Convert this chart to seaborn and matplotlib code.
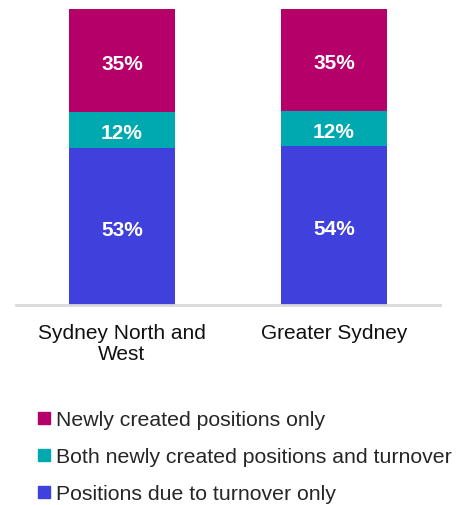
#-------------------------------------------------------------------------------
# Stacked share of vacancies by reason: Sydney North and West vs Greater Sydney
#-------------------------------------------------------------------------------

import matplotlib
matplotlib.use("Agg")
import matplotlib.pyplot as plt
from matplotlib.lines import Line2D
import seaborn as sns
import numpy as np
import pandas as pd

# --------------------------------------
# Data
# --------------------------------------
regions = ["Sydney North and West", "Greater Sydney"]
tick_labels = ["Sydney North and\nWest", "Greater Sydney"]
turnover_only = [53, 54]
both_new_and_turnover = [12, 12]
new_only = [35, 35]

series_names = [
    "Newly created positions only",
    "Both newly created positions and turnover",
    "Positions due to turnover only",
]
colors = ["#B5006A", "#00A8AF", "#4040DC"]

# --------------------------------------
# Build stacked (cumulative) shares, each bar scaled to 100%
# --------------------------------------
df = pd.DataFrame({
    "region": regions,
    "turnover": turnover_only,
    "both": both_new_and_turnover,
    "new": new_only,
})
total = df[["turnover", "both", "new"]].sum(axis=1)
df["s_turnover"] = df["turnover"] / total * 100
df["s_both"] = df["both"] / total * 100
df["s_new"] = df["new"] / total * 100
df["cum_turnover"] = df["s_turnover"]
df["cum_both"] = df["cum_turnover"] + df["s_both"]
df["cum_new"] = df["cum_both"] + df["s_new"]

# --------------------------------------
# Plot
# --------------------------------------
sns.set_style("white")
plt.rcParams["font.family"] = ["Liberation Sans", "DejaVu Sans"]

fig = plt.figure(figsize=(4.62, 5.06), dpi=100)
ax = fig.add_axes([16 / 462, 1 - 305.5 / 506, 424 / 462, 296 / 506])

# draw the tallest layer first so shorter ones sit on top
layers = [("cum_new", colors[0]), ("cum_both", colors[1]), ("cum_turnover", colors[2])]
for col, c in layers:
    sns.barplot(data=df, x="region", y=col, color=c, saturation=1,
                width=0.5, errorbar=None, ax=ax, linewidth=0)

# segment labels
for i, row in df.iterrows():
    mids = [row["s_turnover"] / 2,
            row["cum_turnover"] + row["s_both"] / 2,
            row["cum_both"] + row["s_new"] / 2]
    vals = [row["turnover"], row["both"], row["new"]]
    for m, v in zip(mids, vals):
        ax.annotate(f"{v}%", (i, m), xytext=(0, -2.2), textcoords="offset points",
                    ha="center", va="center", color="white",
                    fontsize=15, fontweight="bold")

ax.set_xlim(-0.5, 1.5)
ax.set_ylim(0, 100)
ax.set_xlabel("")
ax.set_ylabel("")
ax.set_yticks([])
ax.set_xticks(range(len(tick_labels)))
ax.set_xticklabels(tick_labels, fontsize=15, color="#111111", linespacing=1.15)
ax.tick_params(axis="x", length=0, pad=13)
for s in ["top", "left", "right"]:
    ax.spines[s].set_visible(False)
ax.spines["bottom"].set_color("#D9D9D9")
ax.spines["bottom"].set_linewidth(2)

# legend below the chart
handles = [Line2D([0], [0], marker="s", linestyle="", markersize=8,
                  markerfacecolor=c, markeredgecolor=c) for c in colors]
fig.legend(handles, series_names, loc="upper left",
           bbox_to_anchor=(36 / 462, 1 - 411 / 506), frameon=False,
           fontsize=15.3, handlelength=0.75, handletextpad=0.2,
           labelspacing=0.85, borderpad=0, borderaxespad=0)

plt.savefig("out.png", dpi=100)
